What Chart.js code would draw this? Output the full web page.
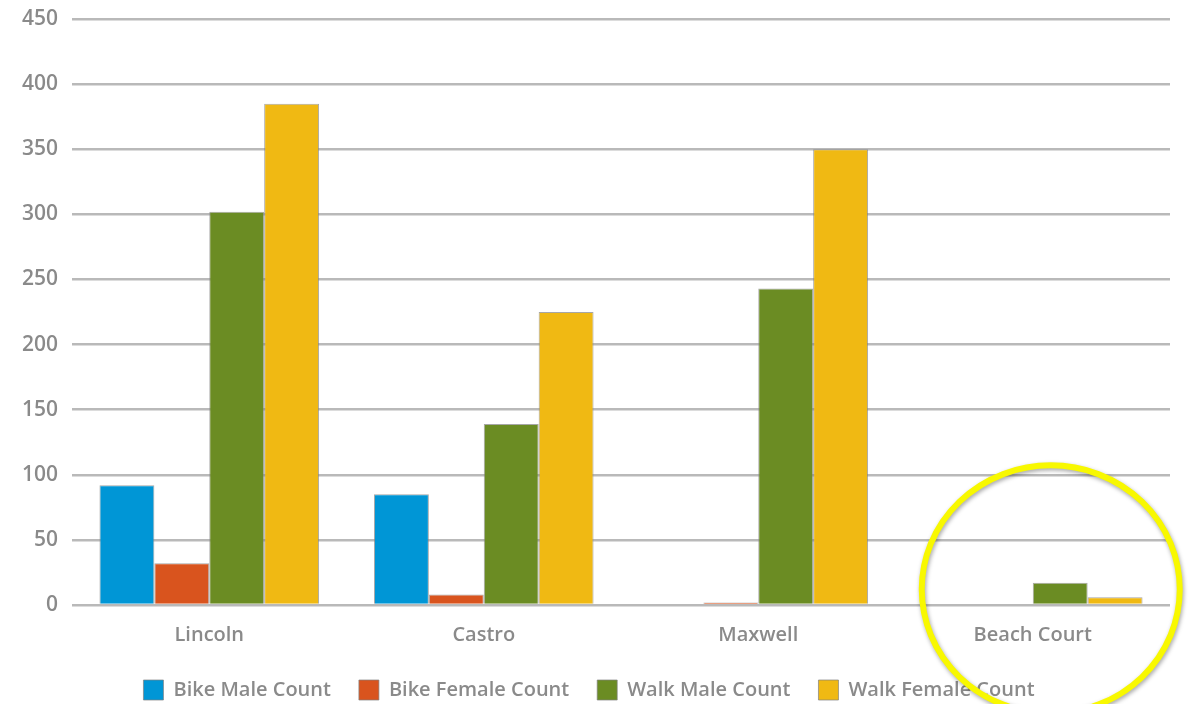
<!DOCTYPE html>
<html lang="en">
<head>
    <meta charset="UTF-8">
    <title>Bike and Walk Counts</title>
    <script src="https://cdn.jsdelivr.net/npm/chart.js"></script>
    <style>
        body { margin: 0; background: #fff; }
        #wrap { width: 1196px; height: 704px; position: relative; }
    </style>
</head>
<body>
    <div id="wrap"><canvas id="countChart"></canvas></div>

    <script>
        // Data
        const locations = ['Lincoln', 'Castro', 'Maxwell', 'Beach Court'];
        const bikeMale = [92, 85, 0, 0];
        const bikeFemale = [32, 8, 2, 0];
        const walkMale = [302, 139, 243, 17];
        const walkFemale = [385, 225, 350, 6];
        const yTicks = [0, 50, 100, 150, 200, 250, 300, 350, 400, 450];

        const tickColor = '#8a8a8a';
        const gridColor = '#b9b9b9';

        // yellow highlight ring around the last category
        const highlightRing = {
            id: 'highlightRing',
            afterDraw(chart) {
                const x = chart.scales.x, y = chart.scales.y;
                const cx = x.getPixelForValue(locations.length - 1) + 18;
                const cy = y.getPixelForValue(12);
                const c = chart.ctx;
                c.save();
                c.shadowColor = 'rgba(0,0,0,0.35)';
                c.shadowBlur = 4;
                c.shadowOffsetX = 1;
                c.shadowOffsetY = 2;
                c.strokeStyle = '#f8f800';
                c.lineWidth = 6;
                c.beginPath();
                c.ellipse(cx, cy, 129, 124, 0, 0, Math.PI * 2);
                c.stroke();
                c.restore();
            }
        };

        const ctx = document.getElementById('countChart').getContext('2d');
        const barBorder = 'rgba(130,130,130,0.7)';
        new Chart(ctx, {
            type: 'bar',
            data: {
                labels: locations,
                datasets: [
                    { label: 'Bike Male Count', data: bikeMale, backgroundColor: '#0096d6' },
                    { label: 'Bike Female Count', data: bikeFemale, backgroundColor: '#d9541e' },
                    { label: 'Walk Male Count', data: walkMale, backgroundColor: '#6b8c23' },
                    { label: 'Walk Female Count', data: walkFemale, backgroundColor: '#f0b913' }
                ].map(d => Object.assign(d, { borderColor: barBorder, borderWidth: 1, borderSkipped: 'start' }))
            },
            options: {
                responsive: true,
                maintainAspectRatio: false,
                animation: false,
                layout: { padding: { top: 0, right: 26, left: 8, bottom: -6 } },
                datasets: { bar: { categoryPercentage: 0.8, barPercentage: 1.0 } },
                plugins: {
                    tooltip: { enabled: false },
                    legend: {
                        position: 'bottom',
                        labels: {
                            boxWidth: 20,
                            boxHeight: 20,
                            padding: 28,
                            color: tickColor,
                            font: { family: 'Open Sans', size: 20, weight: '600' },
                            generateLabels(chart) {
                                return chart.data.datasets.map((d, i) => ({
                                    text: d.label,
                                    fillStyle: d.backgroundColor,
                                    strokeStyle: barBorder,
                                    lineWidth: 1,
                                    fontColor: tickColor,
                                    datasetIndex: i
                                }));
                            }
                        }
                    }
                },
                scales: {
                    x: {
                        grid: { display: false },
                        border: { display: false },
                        afterFit(axis) { axis.height = 47; },
                        ticks: {
                            color: tickColor,
                            padding: 10,
                            font: { family: 'Open Sans', size: 20, weight: '600' }
                        }
                    },
                    y: {
                        min: 0,
                        max: 450,
                        afterBuildTicks(axis) { axis.ticks = yTicks.map(v => ({ value: v })); },
                        afterFit(axis) { axis.paddingTop = 19; },
                        grid: { color: gridColor, lineWidth: 2.5, drawTicks: false },
                        border: { display: false },
                        ticks: {
                            color: tickColor,
                            padding: 14,
                            font: { family: 'Open Sans', size: 21, weight: '600' }
                        }
                    }
                }
            },
            plugins: [highlightRing]
        });
    </script>
</body>
</html>
